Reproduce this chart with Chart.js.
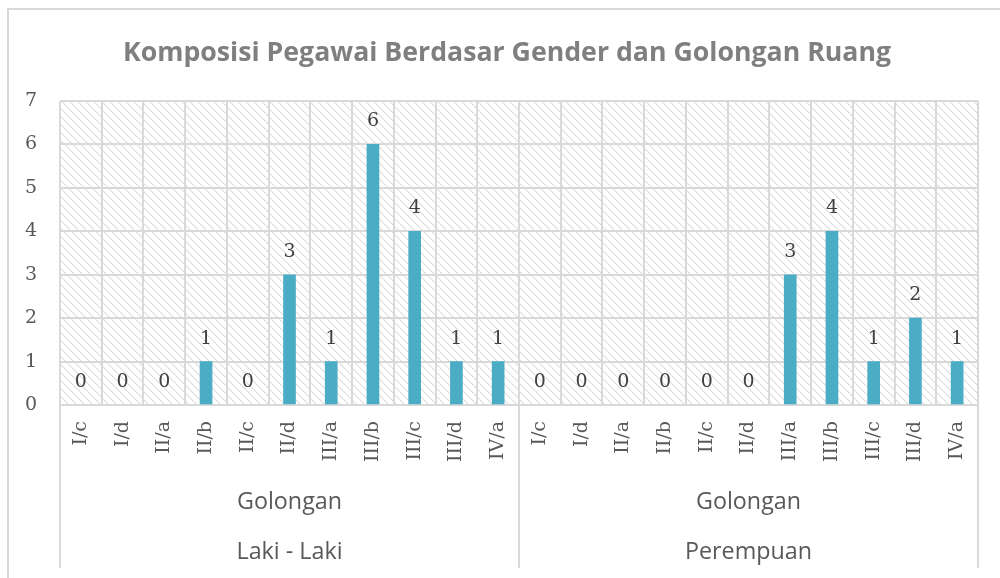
<!DOCTYPE html>
<html>
<head>
<meta charset="utf-8">
<script src="https://cdn.jsdelivr.net/npm/chart.js@4.4.1/dist/chart.umd.min.js"></script>
<style>
html,body{margin:0;padding:0;background:#fff;}
#wrap{width:1000px;height:578px;position:relative;}
</style>
</head>
<body>
<div id="wrap"><canvas id="c" width="1000" height="578"></canvas></div>
<script>
const chartTitle = "Komposisi Pegawai Berdasar Gender dan Golongan Ruang";
const golongan = ["I/c","I/d","II/a","II/b","II/c","II/d","III/a","III/b","III/c","III/d","IV/a"];
const groupLevel1 = ["Golongan","Golongan"];
const groupLevel2 = ["Laki - Laki","Perempuan"];
const lakiValues = [0,0,0,1,0,3,1,6,4,1,1];
const perempuanValues = [0,0,0,0,0,0,3,4,1,2,1];
const yTicks = [0,1,2,3,4,5,6,7];

const labels = golongan.concat(golongan);
const values = lakiValues.concat(perempuanValues);

const SERIF = '"DejaVu Serif", serif';
const SANS = '"Open Sans", "Noto Sans", sans-serif';
const GRID = '#d9d9d9';

function makeHatch(ctx){
  const p = document.createElement('canvas');
  p.width = 8; p.height = 8;
  const g = p.getContext('2d');
  g.fillStyle = '#ffffff'; g.fillRect(0,0,8,8);
  for (let i=0;i<8;i++){
    g.fillStyle = (i%2===0) ? '#d6d6d6' : '#e4e4e4'; g.fillRect(i,i,1,1);
    g.fillStyle = '#f0f0f0'; g.fillRect((i+1)%8,i,1,1);
  }
  return ctx.createPattern(p,'repeat');
}

const decor = {
  id:'decor',
  beforeDraw(chart){
    const {ctx, chartArea:a} = chart;
    ctx.save();
    ctx.fillStyle = makeHatch(ctx);
    ctx.fillRect(a.left, a.top, a.right-a.left, a.bottom-a.top);
    // outer chart border
    ctx.strokeStyle = GRID; ctx.lineWidth = 2;
    ctx.beginPath();
    ctx.moveTo(8, 580); ctx.lineTo(8, 9); ctx.lineTo(1002, 9);
    ctx.stroke();
    // title
    ctx.fillStyle = '#7f7f7f';
    ctx.font = 'bold 26.7px ' + SANS;
    ctx.textAlign = 'center'; ctx.textBaseline = 'middle';
    ctx.fillText(chartTitle, 507, 53);
    ctx.restore();
  },
  afterDraw(chart){
    const {ctx, chartArea:a} = chart;
    const x = chart.scales.x;
    const n = golongan.length;
    ctx.save();
    // data labels
    ctx.fillStyle = '#404040';
    ctx.font = '19px ' + SERIF;
    ctx.textAlign = 'center'; ctx.textBaseline = 'middle';
    const meta = chart.getDatasetMeta(0);
    meta.data.forEach((bar,i)=>{
      ctx.fillText(String(values[i]), bar.x, bar.y - 23);
    });
    // multi-level separators
    ctx.strokeStyle = GRID; ctx.lineWidth = 2;
    const edges = [];
    for (let g=0; g<=groupLevel1.length; g++){
      const idx = g*n;
      let px;
      if (idx === 0) px = a.left; else if (idx >= labels.length) px = a.right;
      else px = (x.getPixelForValue(idx-1)+x.getPixelForValue(idx))/2;
      edges.push(px);
      ctx.beginPath(); ctx.moveTo(px, a.bottom); ctx.lineTo(px, 568); ctx.stroke();
    }
    ctx.fillStyle = '#595959';
    ctx.font = '23.3px ' + SANS;
    for (let g=0; g<groupLevel1.length; g++){
      const cx = (edges[g]+edges[g+1])/2;
      ctx.fillText(groupLevel1[g], cx, 502);
      ctx.fillText(groupLevel2[g], cx, 552);
    }
    ctx.restore();
  }
};

new Chart(document.getElementById('c'), {
  type:'bar',
  data:{
    labels: labels,
    datasets:[{
      data: values,
      backgroundColor:(c)=> (c.raw === 0 ? 'rgba(0,0,0,0)' : '#4bacc6'),
      borderWidth:0,
      barThickness:12
    }]
  },
  options:{
    responsive:false,
    devicePixelRatio:1,
    animation:false,
    layout:{padding:{left:0, top:101, right:22, bottom:0}},
    plugins:{legend:{display:false}, title:{display:false}, tooltip:{enabled:false}},
    scales:{
      x:{
        offset:true,
        grid:{color:GRID, lineWidth:2, offset:true, drawTicks:false},
        border:{color:GRID, width:2},
        ticks:{
          minRotation:90, maxRotation:90, autoSkip:false, padding:16,
          color:'#595959', font:{family:SERIF, size:19}
        },
        afterFit(s){ s.height = 173; }
      },
      y:{
        min:yTicks[0], max:yTicks[yTicks.length-1],
        grid:{color:GRID, lineWidth:2, drawTicks:false},
        border:{display:false},
        afterBuildTicks(s){ s.ticks = yTicks.map(v=>({value:v})); },
        ticks:{padding:23, color:'#595959', font:{family:SERIF, size:19}},
        afterFit(s){ s.width = 60; }
      }
    }
  },
  plugins:[decor]
});
</script>
</body>
</html>
